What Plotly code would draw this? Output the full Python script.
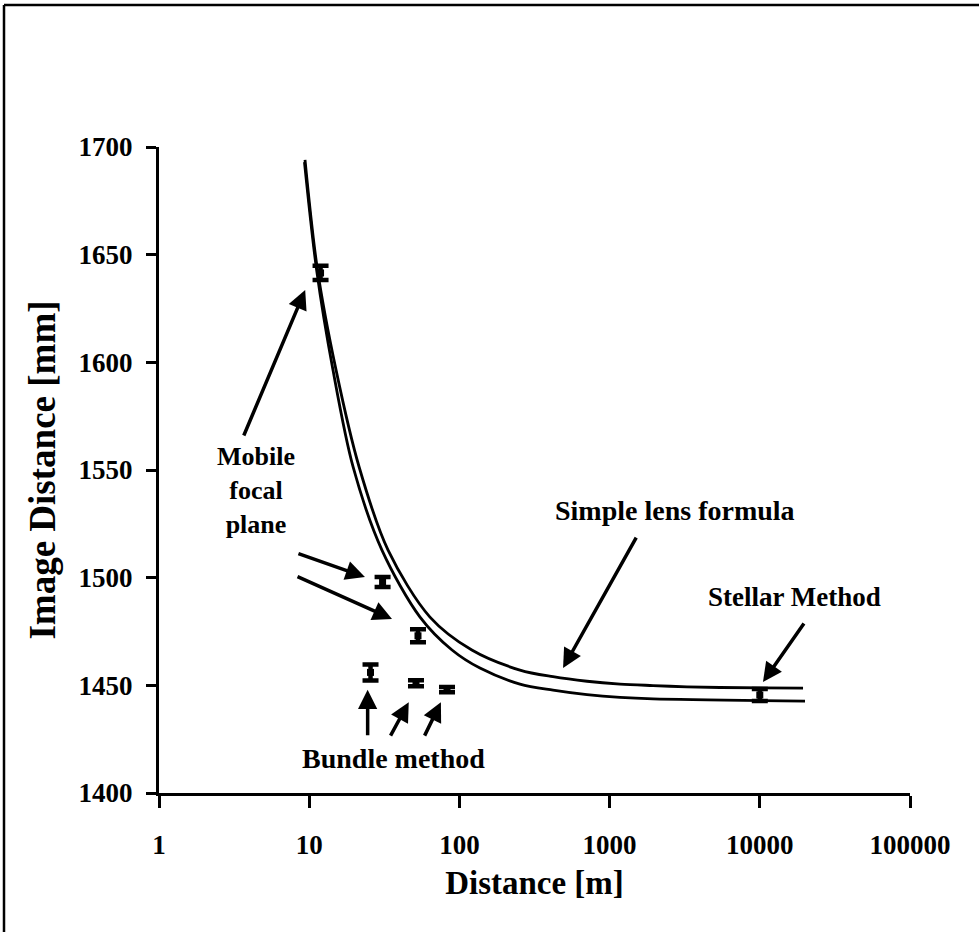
import math
import plotly.graph_objects as go

# Measured image distance vs. object distance
mobile_d = [11.9, 30.8, 53.0]
mobile_i = [1641.5, 1498.0, 1473.0]
mobile_err = [3.3, 2.3, 3.0]

bundle_d = [25.6, 51.4, 82.7]
bundle_i = [1456.0, 1451.0, 1448.0]
bundle_err = [3.7, 1.4, 1.2]

stellar_d = [10000]
stellar_i = [1445.5]
stellar_err = [2.8]

# Simple lens formula curves (two focal lengths)
lens_hi_d = [9.38, 11.3, 15.1, 21.5, 33.5, 63.7, 121, 253, 420, 707, 1173, 1945, 3275, 5433, 19400]
lens_hi_i = [1694, 1644, 1596.4, 1551.4, 1512.8, 1481.7, 1466.4, 1457.1, 1454.0, 1451.9,
             1450.6, 1449.9, 1449.3, 1449.0, 1448.7]
lens_lo_d = [9.3, 11.2, 14.4, 19.6, 30.5, 54.7, 89.3, 137, 253, 420, 707, 1173, 1945, 20000]
lens_lo_i = [1693, 1643, 1596.4, 1551.4, 1512.8, 1481.7, 1466.4, 1458.0, 1450.6, 1447.8,
             1445.7, 1444.4, 1443.7, 1442.7]

x_ticks = [1, 10, 100, 1000, 10000, 100000]
x_ticktext = ["1", "10", "100", "1000", "10000", "100000"]
y_ticks = [1400, 1450, 1500, 1550, 1600, 1650, 1700]

FONT = "Liberation Serif"
fig = go.Figure()

for xd, yd in [(lens_hi_d, lens_hi_i), (lens_lo_d, lens_lo_i)]:
    fig.add_trace(go.Scatter(x=xd, y=yd, mode="lines",
                             line=dict(color="black", width=2.8, shape="spline", smoothing=0.9),
                             showlegend=False, hoverinfo="skip"))

for xd, yd, err in [(mobile_d, mobile_i, mobile_err),
                    (bundle_d, bundle_i, bundle_err),
                    (stellar_d, stellar_i, stellar_err)]:
    fig.add_trace(go.Scatter(x=xd, y=yd, mode="markers",
                             marker=dict(color="black", size=7, symbol="square"),
                             error_y=dict(type="data", array=err, visible=True,
                                          color="black", thickness=4.5, width=8),
                             showlegend=False))

def arrow(x, y, ax, ay):
    fig.add_annotation(x=x, y=y, ax=ax, ay=ay, text="", showarrow=True,
                       arrowhead=2, arrowsize=1.1, arrowwidth=3.5, arrowcolor="black")

lg = math.log10
# tips in data coords, tails as pixel offsets
arrow(lg(9.4), 1633.6, -62, 147)     # mobile, upper point
arrow(lg(23.5), 1500.3, -68, -24)    # mobile, middle
arrow(lg(35.6), 1480.8, -96, -43)    # mobile, lower
arrow(lg(24.5), 1448, 0, 47)         # bundle 1
arrow(lg(46.0), 1442.2, -19, 35)     # bundle 2
arrow(lg(75.3), 1442.2, -17, 35)     # bundle 3
arrow(lg(490), 1458, 74, -132)       # lens formula
arrow(lg(10500), 1451.5, 42, -60)    # stellar

W, H = 979, 932
L, R, T, B = 159, 910, 147, 793

def px(xp, yp):
    return (xp - L) / (R - L), (B - yp) / (B - T)

def label(text, xp, yp, size=28):
    x, y = px(xp, yp)
    fig.add_annotation(x=x, y=y, xref="paper", yref="paper", text=text,
                       xanchor="center", yanchor="middle",
                       showarrow=False, align="center",
                       font=dict(family=FONT, size=size, color="black", weight="bold"))

label("Mobile<br>focal<br>plane", 256, 490, size=26)
label("Simple lens formula", 675, 510)
label("Stellar Method", 794, 597, size=27)
label("Bundle method", 393, 758)

# frame (top and left edges)
fx0, fy1 = px(4, 5)
fx1, _ = px(979, 5)
_, fy0 = px(4, 932)
fig.add_shape(type="line", xref="paper", yref="paper", x0=fx0, x1=fx1, y0=fy1, y1=fy1,
              line=dict(color="black", width=2.5))
fig.add_shape(type="line", xref="paper", yref="paper", x0=fx0, x1=fx0, y0=fy0, y1=fy1,
              line=dict(color="black", width=2.5))

tickfont = dict(family=FONT, size=27, color="black", weight="bold")
fig.update_layout(
    width=W, height=H,
    margin=dict(l=L, r=W - R, t=T, b=H - B),
    paper_bgcolor="white", plot_bgcolor="white",
    font=dict(family=FONT, size=27, color="black"),
    xaxis=dict(type="log", range=[0, 5], tickvals=x_ticks, ticktext=x_ticktext,
               showgrid=False, zeroline=False, showline=True, linecolor="black",
               linewidth=3, ticks="outside", ticklen=12, tickwidth=3, tickcolor="black",
               tickfont=tickfont, ticklabelstandoff=14,
               title=dict(text="<b>Distance [m]</b>", standoff=12,
                          font=dict(family=FONT, size=33, color="black"))),
    yaxis=dict(range=[1400, 1700], tickvals=y_ticks,
               showgrid=False, zeroline=False, showline=True, linecolor="black",
               linewidth=3, ticks="outside", ticklen=10, tickwidth=3, tickcolor="black",
               tickfont=tickfont, ticklabelstandoff=8,
               title=dict(text="<b>Image Distance [mm]</b>", standoff=12,
                          font=dict(family=FONT, size=37, color="black"))),
)

fig.write_html("out.html")
